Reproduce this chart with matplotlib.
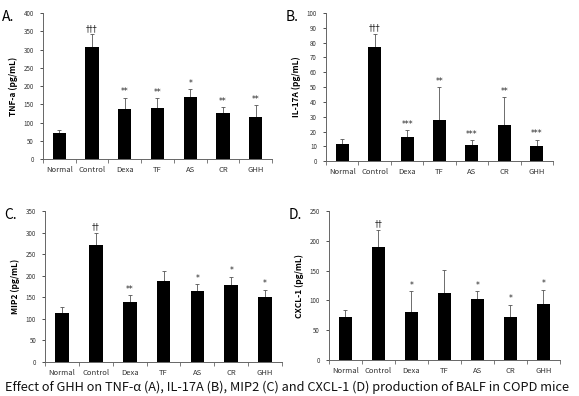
import matplotlib
matplotlib.use("Agg")
from matplotlib import pyplot as plt
import numpy as np

plt.rcParams['font.family'] = ['Noto Sans CJK KR', 'DejaVu Sans']

groups = ["Normal", "Control", "Dexa", "TF", "AS", "CR", "GHH"]

# panel A: TNF-a
tnf_mean = [72, 308, 138, 139, 171, 127, 115]
tnf_err = [8, 34, 30, 28, 20, 15, 32]
tnf_sig = ["", "†††", "**", "**", "*", "**", "**"]

# panel B: IL-17A
il17_mean = [11.5, 77, 16, 28, 11, 24.5, 10]
il17_err = [3.5, 9, 5, 22, 3, 18.5, 4.5]
il17_sig = ["", "†††", "***", "**", "***", "**", "***"]

# panel C: MIP2
mip2_mean = [114, 271, 138, 187, 165, 179, 150]
mip2_err = [13, 29, 17, 24, 15, 19, 18]
mip2_sig = ["", "††", "**", "", "*", "*", "*"]

# panel D: CXCL-1
cxcl_mean = [72, 190, 80, 112, 103, 72, 94]
cxcl_err = [12, 28, 35, 39, 12, 21, 24]
cxcl_sig = ["", "††", "*", "", "*", "*", "*"]

panels = [
    ("A.", "TNF-a (pg/mL)", tnf_mean, tnf_err, tnf_sig, 400, 50, [0.074, 0.598, 0.396, 0.369]),
    ("B.", "IL-17A (pg/mL)", il17_mean, il17_err, il17_sig, 100, 10, [0.563, 0.593, 0.392, 0.374]),
    ("C.", "MIP2 (pg/mL)", mip2_mean, mip2_err, mip2_sig, 350, 50, [0.078, 0.086, 0.409, 0.381]),
    ("D.", "CXCL-1 (pg/mL)", cxcl_mean, cxcl_err, cxcl_sig, 250, 50, [0.568, 0.091, 0.399, 0.376]),
]

fig = plt.figure(figsize=(5.79, 3.96), dpi=100)
fig.set_facecolor("white")

x = np.arange(len(groups))
for letter, ylabel, mean, err, sig, ymax, step, pos in panels:
    ax = fig.add_axes(pos)
    ax.bar(x, mean, width=0.4, color="black", zorder=2)
    ax.errorbar(x, mean, yerr=[np.zeros(len(mean)), err], fmt="none",
                ecolor="#555555", elinewidth=0.6, capsize=1.5, capthick=0.6, zorder=1)
    for xi, m, e, s in zip(x, mean, err, sig):
        if s:
            ax.annotate(s, (xi, m + e), xytext=(0, 1), textcoords="offset points",
                        ha="center", va="bottom", fontsize=5.5,
                        color="#222222", family=['DejaVu Sans'])
    ax.set_xlim(-0.5, len(groups) - 0.5)
    ax.set_ylim(0, ymax)
    ax.set_yticks(np.arange(0, ymax + 1, step))
    ax.set_xticks(x)
    ax.set_xticklabels(groups)
    ax.set_xticks(np.arange(-0.5, len(groups), 1), minor=True)
    ax.tick_params(axis="x", which="major", length=0, labelsize=5.5, colors="#333333", pad=5)
    ax.tick_params(axis="x", which="minor", length=3, width=0.6, direction="out", color="#666666")
    ax.tick_params(axis="y", length=2.5, width=0.6, labelsize=4.5, colors="#333333", pad=4)
    for side in ("top", "right"):
        ax.spines[side].set_visible(False)
    for side in ("left", "bottom"):
        ax.spines[side].set_color("#666666")
        ax.spines[side].set_linewidth(0.7)
    ax.set_ylabel(ylabel, fontsize=6, fontweight="bold", labelpad=4)
    fig.text(pos[0] - 0.07, pos[1] + pos[3] - 0.01, letter, fontsize=10, ha="left", va="center")

fig.text(0.008, 0.022, "Effect of GHH on TNF-α (A), IL-17A (B), MIP2 (C) and CXCL-1 (D) production of BALF in COPD mice",
         fontsize=9.2, ha="left", va="center", color="#111111")

fig.savefig("out.png", dpi=100)
